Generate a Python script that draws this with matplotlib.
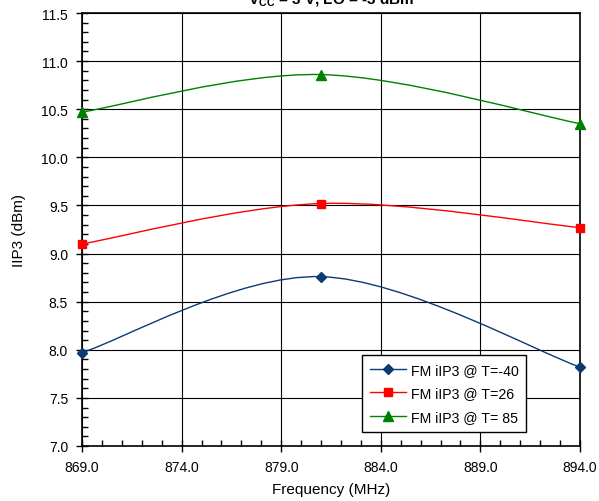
import numpy as np
import matplotlib.pyplot as plt
from matplotlib.path import Path
from matplotlib.patches import PathPatch
from matplotlib.lines import Line2D
from matplotlib.ticker import MultipleLocator, FixedLocator

plt.rcParams['font.family'] = ['Liberation Sans', 'DejaVu Sans']

freq = [869.0, 881.0, 894.0]
iip3_m40 = [7.97, 8.76, 7.82]
iip3_26 = [9.10, 9.52, 9.27]
iip3_85 = [10.47, 10.86, 10.35]

labels = ['FM iIP3 @ T=-40', 'FM iIP3 @ T=26', 'FM iIP3 @ T= 85']
colors = ['#0b3b73', '#ff0000', '#008000']
markers = ['D', 's', '^']
msizes = [5, 6, 6.5]

x_ticks = [869.0, 874.0, 879.0, 884.0, 889.0, 894.0]
x_lim = (869.0, 894.0)
y_lim = (7.0, 11.5)


def smooth_path(ax, xs, ys):
    # Excel-style smoothed line: cubic bezier through the points (in screen space)
    pts = ax.transData.transform(np.column_stack([xs, ys]))
    n = len(pts)
    verts = [pts[0]]
    codes = [Path.MOVETO]
    for i in range(n - 1):
        p_prev = pts[max(i - 1, 0)]
        p0, p1 = pts[i], pts[i + 1]
        p_next = pts[min(i + 2, n - 1)]
        c1 = p0 + (p1 - p_prev) / 6.0
        c2 = p1 - (p_next - p0) / 6.0
        verts += [c1, c2, p1]
        codes += [Path.CURVE4] * 3
    verts = ax.transData.inverted().transform(np.array(verts))
    return Path(verts, codes)


fig = plt.figure(figsize=(5.99, 5.02), dpi=100)
ax = fig.add_axes([82 / 599, 1 - 447 / 502, (580 - 82) / 599, (447 - 14) / 502])
ax.set_xlim(*x_lim)
ax.set_ylim(*y_lim)

series = [iip3_m40, iip3_26, iip3_85]
handles = []
for ys, c, m, ms, lab in zip(series, colors, markers, msizes, labels):
    patch = PathPatch(smooth_path(ax, freq, ys), facecolor='none', edgecolor=c, lw=1.0, zorder=3)
    ax.add_patch(patch)
    ax.plot(freq, ys, linestyle='none', marker=m, color=c, ms=ms, zorder=4, clip_on=False)
    handles.append(Line2D([], [], color=c, marker=m, ms=ms, lw=1.0, label=lab))

ax.xaxis.set_major_locator(FixedLocator(x_ticks))
ax.xaxis.set_minor_locator(MultipleLocator(1))
ax.yaxis.set_major_locator(MultipleLocator(0.5))
ax.yaxis.set_minor_locator(MultipleLocator(0.1))
ax.xaxis.set_major_formatter(lambda v, p: f'{v:.1f}')
ax.yaxis.set_major_formatter(lambda v, p: f'{v:.1f}')
ax.tick_params(which='major', direction='inout', length=8, width=1, labelsize=10, pad=6)
ax.tick_params(which='minor', direction='in', length=4, width=1)
ax.grid(True, which='major', color='black', lw=0.8)
for s in ax.spines.values():
    s.set_linewidth(1.2)

ax.set_xlabel('Frequency (MHz)', fontsize=11, labelpad=6)
ax.set_ylabel('IIP3 (dBm)', fontsize=11, labelpad=11)

leg = ax.legend(handles=handles, loc='lower right', bbox_to_anchor=(0.892, 0.032),
                borderaxespad=0, fontsize=10.2, frameon=True, fancybox=False,
                edgecolor='black', framealpha=1, handlelength=2.6, handletextpad=0.3,
                borderpad=0.55, labelspacing=0.7)
leg.get_frame().set_linewidth(1.0)

fig.text(331 / 599, 1 - 4 / 502, r'V$_\mathregular{CC}$ = 3 V, LO = -3 dBm',
         ha='center', va='baseline', fontsize=11, fontweight='bold')

fig.savefig('out.png', dpi=100)
